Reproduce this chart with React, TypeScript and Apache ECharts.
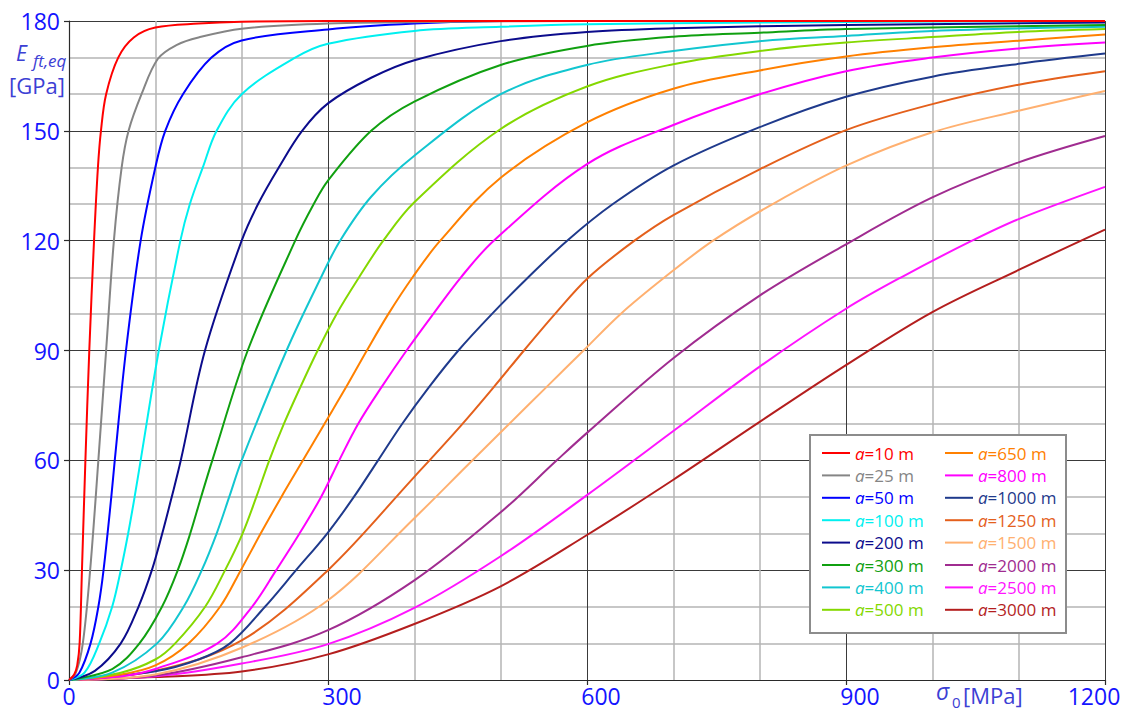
import React, { useEffect, useRef } from 'react';
import * as echarts from 'echarts';

// ---------- data (σ0 [MPa], E_ft,eq [GPa]) ----------
const seriesNames = [
  'a=10 m', 'a=25 m', 'a=50 m', 'a=100 m', 'a=200 m', 'a=300 m', 'a=400 m', 'a=500 m',
  'a=650 m', 'a=800 m', 'a=1000 m', 'a=1250 m', 'a=1500 m', 'a=2000 m', 'a=2500 m', 'a=3000 m',
];
const seriesColors = [
  '#ff0000', '#858585', '#0000ff', '#00f0f0', '#0c0c8c', '#10a010', '#12c6d0', '#84d800',
  '#ff8000', '#ff00ff', '#1f3a8c', '#e4601c', '#ffb070', '#a02c90', '#ff14ff', '#b41e1e',
];

const a10: number[][] = [[0, 0], [6, 1.5], [9.5, 4], [12.3, 10], [15, 30], [19, 60], [23.5, 90], [29, 120], [33.5, 140], [37, 150], [43, 160], [57, 170], [75, 175.5], [100, 178.2], [150, 179.3], [200, 179.8], [300, 180], [1200, 180]];
const a25: number[][] = [[0, 0], [8, 2], [16, 10], [24.5, 30], [34, 60], [43, 90], [52, 120], [61, 140], [69, 150], [84, 160], [103, 169.7], [125, 173.5], [150, 175.5], [200, 177.9], [300, 179.3], [450, 179.8], [600, 180], [1200, 180]];
const a50: number[][] = [[0, 0], [12, 2], [25, 10], [34, 20], [40, 30], [49, 50], [53, 60], [66, 90], [83, 120], [100, 140], [111.5, 150], [132, 160], [165, 170], [200, 174.7], [300, 177.7], [400, 179.3], [500, 180], [1200, 180]];
const a100: number[][] = [[0, 0], [18, 2], [35, 10], [50, 20], [60, 30], [68.5, 40], [76, 50], [83, 60], [104, 90], [129, 120], [140, 130], [155, 140], [171, 150], [200, 160], [262, 170], [300, 173.8], [400, 177.3], [500, 178.4], [600, 179.1], [800, 179.6], [1200, 180]];
const a200: number[][] = [[0, 0], [30, 2.5], [60, 10], [80.5, 20], [96, 30], [108, 40], [119, 50], [129.5, 60], [157.5, 90], [200, 120], [219, 130], [243, 140], [270, 150], [300, 157.5], [350, 164.5], [400, 169.3], [500, 174.5], [600, 177], [700, 178], [900, 178.9], [1200, 179.6]];
const a300: number[][] = [[0, 0], [50, 3], [81.6, 10], [107.7, 20], [126, 30], [140.4, 40], [153, 50], [166, 60], [207, 90], [262, 120], [283.5, 130], [300, 136.4], [350, 150], [400, 158], [500, 168], [600, 173.2], [700, 175.7], [800, 176.8], [900, 177.8], [1200, 178.9]];
const a400: number[][] = [[0, 0], [50, 2], [102, 10], [132.8, 20], [153.8, 30], [171, 40], [185.6, 50], [200, 60], [252, 90], [292, 110], [314, 120], [350, 132], [400, 143.2], [500, 160], [600, 168], [700, 171.8], [800, 174.5], [900, 175.9], [1000, 177.3], [1200, 178.4]];
const a500: number[][] = [[0, 0], [60, 2], [100, 5.6], [123, 10], [157.7, 20], [180.8, 30], [201, 40], [217, 50], [232, 60], [249, 70], [268, 80], [288, 90], [310, 100], [336, 110], [364, 120], [400, 130.5], [500, 150.5], [600, 162.1], [700, 168.2], [800, 171.8], [900, 174.1], [1000, 175.6], [1100, 177], [1200, 177.8]];
const a650: number[][] = [[0, 0], [60, 1.5], [100, 4], [138.5, 10], [175, 20], [199, 30], [222, 40], [246, 50], [271, 60], [296, 70], [321, 80], [345, 90], [370, 100], [398, 110], [430, 120], [500, 137.2], [600, 152.3], [700, 161.5], [800, 166.5], [900, 170.3], [1000, 172.8], [1100, 174.6], [1200, 176.3]];
const a800: number[][] = [[0, 0], [60, 1], [100, 3], [172, 10], [212, 20], [240, 30], [267, 40], [292, 50], [313, 60], [335, 70], [362, 80], [391, 90], [422, 100], [454, 110], [492, 120], [600, 140.9], [700, 151.6], [800, 160], [900, 166.3], [1000, 170], [1100, 172.5], [1200, 174.1]];
const a1000: number[][] = [[0, 0], [100, 2.4], [150, 5.6], [186.5, 10], [227, 20], [263, 30], [299, 40], [330, 50], [358, 60], [386, 70], [417, 80], [451, 90], [490, 100], [532, 110], [577, 120], [630, 130], [700, 140.5], [800, 151], [900, 159.3], [1000, 164.8], [1100, 168.3], [1200, 171.1]];
const a1250: number[][] = [[0, 0], [100, 2.5], [200, 10.8], [300, 30], [400, 55.5], [454, 69.5], [492, 80], [527, 90], [563, 100], [602, 110], [655, 120], [700, 127], [800, 139.5], [900, 150.2], [1000, 157.3], [1100, 162.6], [1200, 166.3]];
const a1500: number[][] = [[0, 0], [100, 1.5], [200, 8.8], [300, 21.8], [400, 44.2], [463, 59], [508, 69.5], [553, 80], [596, 90], [639, 100], [690, 110], [746, 120], [815, 130], [900, 140.5], [1000, 149.6], [1100, 155.5], [1200, 160.9]];
const a2000: number[][] = [[0, 0], [100, 1.2], [200, 6.2], [300, 13.6], [400, 27.2], [500, 45.8], [565, 60], [600, 67.5], [700, 87.9], [800, 105], [900, 119], [1000, 131.8], [1100, 141.4], [1200, 148.6]];
const a2500: number[][] = [[0, 0], [100, 1], [200, 4.5], [300, 9.8], [400, 19.7], [500, 33.8], [600, 50.5], [700, 68], [800, 85.6], [900, 101.4], [964, 110], [1046, 120], [1100, 125.9], [1200, 134.7]];
const a3000: number[][] = [[0, 0], [100, 0.8], [200, 2.3], [300, 7], [400, 15.3], [500, 25.6], [600, 39.6], [700, 54.7], [800, 70.5], [900, 86], [1000, 100.5], [1100, 112], [1200, 123]];

const seriesData = [a10, a25, a50, a100, a200, a300, a400, a500, a650, a800, a1000, a1250, a1500, a2000, a2500, a3000];

const xMin = 0, xMax = 1200, xStep = 300;
const yMin = 0, yMax = 180, yStep = 30;

const FONT = '"Open Sans", "Liberation Sans", Arial, sans-serif';
const TICK_BLUE = '#1414ff';
const TITLE_BLUE = '#3c40d4';

export default function App() {
  const ref = useRef<HTMLDivElement>(null);

  useEffect(() => {
    document.body.style.margin = '0';
    const chart = echarts.init(ref.current!, null, { renderer: 'svg' });

    const rich: Record<string, any> = {};
    seriesNames.forEach((n, i) => {
      rich['i' + i] = { color: seriesColors[i], fontStyle: 'italic', fontSize: 17, fontFamily: FONT, lineHeight: 18 };
      rich['t' + i] = { color: seriesColors[i], fontSize: 17, fontFamily: FONT, lineHeight: 18 };
    });
    const legendFormatter = (name: string) => {
      const i = seriesNames.indexOf(name);
      return `{i${i}|a}{t${i}|${name.slice(1)}}`;
    };
    const makeLegend = (names: string[], left: number) => ({
      show: true,
      orient: 'vertical',
      left,
      top: 444,
      icon: 'rect',
      itemWidth: 28,
      itemHeight: 2,
      itemGap: 4.4,
      padding: 0,
      z: 5,
      selectedMode: false,
      data: names,
      formatter: legendFormatter,
      textStyle: { fontSize: 17, fontFamily: FONT, lineHeight: 18, rich },
    });

    const xRich = {
      z: { fontSize: 23, fontFamily: FONT, color: TICK_BLUE },
      n: { fontSize: 23, fontFamily: FONT, color: TICK_BLUE, padding: [0, 0, 0, 28] },
      e: { fontSize: 23, fontFamily: FONT, color: TICK_BLUE, padding: [0, 22, 0, 0] },
    };

    const option: any = {
      animation: false,
      backgroundColor: '#ffffff',
      grid: { left: 69, right: 26, top: 21, bottom: 32, containLabel: false },
      xAxis: {
        type: 'value',
        min: xMin,
        max: xMax,
        interval: xStep,
        axisLine: { show: true, onZero: false, lineStyle: { color: '#2a2a2a', width: 1.2 } },
        axisTick: { show: true, length: 5, lineStyle: { color: '#2a2a2a', width: 1.2 } },
        axisLabel: {
          margin: 4,
          fontSize: 23,
          fontFamily: FONT,
          color: TICK_BLUE,
          formatter: (v: number) => (v === xMin ? `{z|${v}}` : v === xMax ? `{e|${v}}` : `{n|${v}}`),
          rich: xRich,
        },
        splitLine: { show: true, lineStyle: { color: '#3a3a3a', width: 1 } },
        minorTick: { show: false, splitNumber: 3 },
        minorSplitLine: { show: true, lineStyle: { color: '#b4b4b4', width: 1.5 } },
      },
      yAxis: {
        type: 'value',
        min: yMin,
        max: yMax,
        interval: yStep,
        axisLine: { show: true, onZero: false, lineStyle: { color: '#2a2a2a', width: 1.2 } },
        axisTick: { show: true, length: 5, lineStyle: { color: '#2a2a2a', width: 1.2 } },
        axisLabel: { margin: 9, fontSize: 23, fontFamily: FONT, color: TICK_BLUE },
        splitLine: { show: true, lineStyle: { color: '#3a3a3a', width: 1 } },
        minorTick: { show: false, splitNumber: 3 },
        minorSplitLine: { show: true, lineStyle: { color: '#b4b4b4', width: 1.5 } },
      },
      legend: [makeLegend(seriesNames.slice(0, 8), 822), makeLegend(seriesNames.slice(8), 945)],
      graphic: [
        {
          type: 'rect',
          z: 3,
          shape: { x: 810, y: 435, width: 256, height: 198 },
          style: { fill: '#ffffff', stroke: '#8c8c8c', lineWidth: 2 },
        },
        {
          type: 'text', x: 16, y: 53, z: 10,
          style: { text: 'E', font: `italic 21px ${FONT}`, fill: TITLE_BLUE, verticalAlign: 'middle', align: 'left' },
        },
        {
          type: 'text', x: 33, y: 60, z: 10,
          style: { text: 'ft,eq', font: `italic 17px ${FONT}`, fill: TITLE_BLUE, verticalAlign: 'middle', align: 'left' },
        },
        {
          type: 'text', x: 9, y: 85, z: 10,
          style: { text: '[GPa]', font: `22px ${FONT}`, fill: TITLE_BLUE, verticalAlign: 'middle', align: 'left' },
        },
        {
          type: 'text', x: 936, y: 691, z: 10,
          style: { text: 'σ', font: `italic 23px ${FONT}`, fill: TITLE_BLUE, verticalAlign: 'middle', align: 'left' },
        },
        {
          type: 'text', x: 952, y: 702, z: 10,
          style: { text: '0', font: `15px ${FONT}`, fill: TITLE_BLUE, verticalAlign: 'middle', align: 'left' },
        },
        {
          type: 'text', x: 963, y: 695, z: 10,
          style: { text: '[MPa]', font: `22px ${FONT}`, fill: TITLE_BLUE, verticalAlign: 'middle', align: 'left' },
        },
      ],
      series: seriesNames.map((name, i) => ({
        name,
        type: 'line',
        data: seriesData[i],
        smooth: 0.35,
        symbol: 'none',
        showSymbol: false,
        clip: true,
        z: 2 + (seriesNames.length - i) * 0.01,
        lineStyle: { color: seriesColors[i], width: 2 },
        itemStyle: { color: seriesColors[i] },
      })),
    };

    chart.setOption(option);
    return () => chart.dispose();
  }, []);

  return <div ref={ref} style={{ width: 1131, height: 712 }} />;
}
